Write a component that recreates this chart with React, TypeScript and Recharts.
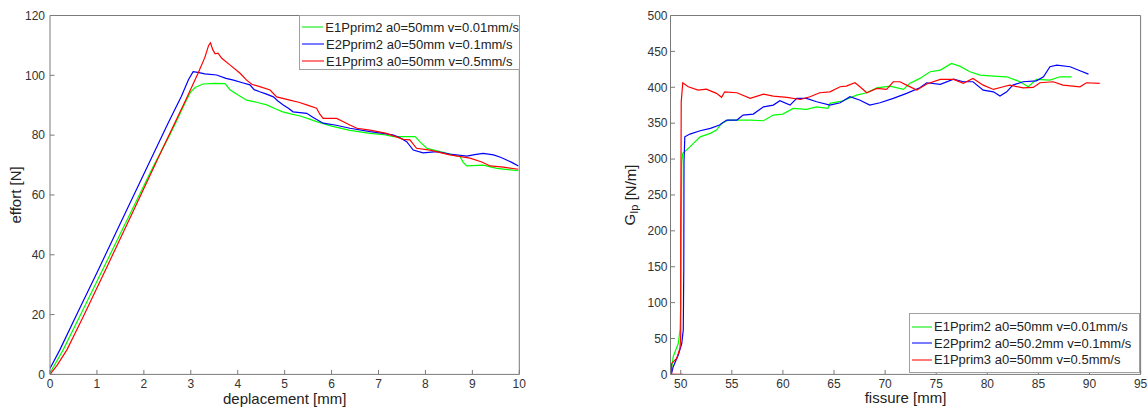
import React from 'react';
import { LineChart, Line, XAxis, YAxis, Legend } from 'recharts';

const FONT = "'Liberation Sans', Arial, Helvetica, sans-serif";

// ---------- Left chart: effort vs deplacement ----------
const depTicks = [0, 1, 2, 3, 4, 5, 6, 7, 8, 9, 10];
const effTicks = [0, 20, 40, 60, 80, 100, 120];

const dep1 = [0, 0.28, 0.7, 1.2, 1.7, 2.2, 2.55, 2.75, 2.9, 3.0, 3.1, 3.26, 3.5, 3.73, 3.84, 4.0, 4.19, 4.4, 4.62, 4.8, 4.96, 5.15, 5.33, 5.5, 5.68, 6.0, 6.39, 6.82, 7.1, 7.32, 7.78, 7.9, 8.03, 8.31, 8.74, 8.8, 8.88, 9.23, 9.52, 9.98];
const eff1 = [0.5, 8.2, 21.5, 37.5, 53.5, 69.5, 80, 86.5, 91.5, 94.5, 96, 97.1, 97.3, 97.2, 95.1, 93.5, 91.7, 91, 90.1, 88.8, 87.8, 87, 86.4, 85.5, 84.5, 83, 81.6, 80.6, 80.2, 79.5, 79.5, 77.5, 75.6, 74.5, 72.8, 71, 69.7, 70, 68.9, 68.1];

const dep2 = [0, 0.21, 0.6, 1.0, 1.5, 2.0, 2.5, 2.8, 2.95, 3.05, 3.15, 3.3, 3.55, 3.75, 3.91, 4.1, 4.26, 4.35, 4.47, 4.6, 4.76, 4.85, 4.97, 5.08, 5.18, 5.47, 5.6, 5.82, 6.1, 6.39, 6.82, 7.1, 7.32, 7.45, 7.6, 7.74, 7.95, 8.24, 8.52, 8.88, 9.05, 9.23, 9.45, 9.6, 9.73, 9.85, 9.98];
const eff2 = [2, 8.2, 21, 34, 50.5, 67, 83.5, 93, 98.5, 101.2, 101, 100.5, 100.1, 99, 98.4, 97.5, 96.8, 95.2, 94.5, 93.8, 92.8, 91.5, 90.1, 89, 87.8, 87.3, 86, 84, 83.3, 82.3, 81.2, 80.6, 80, 79.2, 77.8, 75, 74.1, 74.5, 73.7, 73, 73.5, 73.9, 73.4, 72.6, 71.7, 70.8, 69.7];

const dep3 = [0, 0.15, 0.36, 0.7, 1.2, 1.8, 2.4, 2.9, 3.15, 3.3, 3.38, 3.42, 3.47, 3.52, 3.58, 3.66, 3.84, 4.05, 4.19, 4.3, 4.47, 4.69, 4.83, 5.11, 5.3, 5.47, 5.68, 5.75, 5.82, 6.11, 6.25, 6.39, 6.54, 6.82, 7.17, 7.53, 7.67, 7.81, 8.1, 8.52, 8.95, 9.2, 9.38, 9.66, 9.98];
const eff3 = [0, 3, 8.2, 19, 35.5, 55.5, 75.5, 92, 100.5, 106, 110, 110.9, 108.5, 107.2, 107.4, 105.7, 103.4, 100.7, 98.4, 97, 96.2, 95.1, 92.8, 91.7, 91, 90.1, 89, 87, 85.6, 85.6, 84.5, 83.4, 82.3, 81.7, 80.6, 78.6, 78.4, 75.6, 75, 73.4, 72.3, 71, 69.7, 69.3, 68.6];

const leftNames = [
  'E1Pprim2 a0=50mm v=0.01mm/s',
  'E2Pprim2 a0=50mm v=0.1mm/s',
  'E1Pprim3 a0=50mm v=0.5mm/s',
];

// ---------- Right chart: G_Ip vs fissure ----------
const fisTicks = [50, 55, 60, 65, 70, 75, 80, 85, 90, 95];
const gTicks = [0, 50, 100, 150, 200, 250, 300, 350, 400, 450, 500];

const fis1 = [49.05, 49.27, 49.76, 49.93, 50.0, 50.05, 50.1, 50.2, 50.9, 51.9, 52.9, 53.5, 54, 54.66, 55.8, 56.8, 58.1, 59.06, 60.0, 61.0, 62.3, 63.3, 64.4, 64.6, 65.9, 67.2, 68.2, 69.2, 70.48, 71.8, 72.4, 73.4, 74.4, 75.4, 76.5, 77.3, 78.3, 79.3, 80.6, 81.9, 83.2, 84.0, 84.8, 86.13, 87.1, 88.25];
const g1 = [2, 25, 43, 62, 96, 200, 295, 308, 317, 331, 335.8, 340.4, 349.7, 354.3, 354.3, 354.3, 353.4, 361.3, 362.7, 370.6, 369.2, 372.8, 370.6, 377.6, 381.2, 389.1, 392.4, 399.3, 401.7, 397, 405.4, 412.4, 421.6, 424, 433.3, 429.5, 421.6, 417, 415.6, 414.6, 407.7, 400.7, 411, 410, 414.6, 414.6];

const fis2 = [49.1, 49.27, 49.76, 50.1, 50.25, 50.3, 50.32, 50.4, 50.9, 51.9, 52.9, 53.8, 54.5, 55.5, 56.1, 57.1, 58.1, 59.06, 59.7, 60.7, 61.35, 62.3, 63.3, 64.6, 65.6, 66.56, 67.5, 68.5, 69.5, 70.8, 72.1, 73.4, 74.07, 75.4, 76.7, 77.65, 78.6, 79.6, 80.6, 81.24, 81.9, 82.5, 83.5, 84.8, 85.5, 86.13, 86.8, 88.1, 89.07, 89.9];
const g2 = [1.5, 10.7, 27, 43, 62, 150, 295, 331, 334.8, 339.4, 342.8, 347.4, 354.3, 354.3, 361.3, 362.7, 372.8, 375.2, 381.2, 375.2, 384.5, 384.5, 379.8, 375.2, 378.4, 386.8, 382.2, 375.2, 378.4, 384.5, 391.5, 399.3, 406.3, 404, 411.4, 407.7, 407.7, 396, 393.7, 387.7, 393.7, 403, 407.7, 409, 414.6, 428.6, 430.9, 428.6, 423, 418.4];

const fis3 = [50.2, 49.1, 49.1, 49.6, 49.93, 50.0, 50.0, 50.05, 50.2, 50.74, 51.7, 52.5, 53.5, 54, 54.3, 55.5, 56.8, 58.1, 59.06, 60.4, 61.7, 62.65, 63.6, 64.6, 65.6, 66.2, 67.05, 67.54, 68.2, 69.2, 70.15, 70.8, 71.45, 72.1, 73.1, 74.07, 75.4, 76.7, 77.65, 78.6, 79.6, 80.6, 81.56, 82.2, 83.5, 84.5, 85.15, 86.45, 87.4, 89.07, 89.7, 91.0];
const g3 = [0, 0, 15, 22.4, 36.4, 55, 200, 380, 406.3, 400.7, 396, 397.5, 391.5, 386, 393.7, 392.4, 384.5, 390.5, 387.7, 386, 383, 386.8, 392.4, 393.7, 400.7, 401.7, 406.3, 400.7, 392.4, 398.5, 397, 407.7, 407.7, 403, 396, 404.5, 411, 411, 405.4, 412.4, 403, 397, 400.7, 403, 399.3, 399.8, 406.3, 407.7, 403, 400.7, 406.3, 405.4];

const rightNames = [
  'E1Pprim2 a0=50mm v=0.01mm/s',
  'E2Pprim2 a0=50.2mm v=0.1mm/s',
  'E1Pprim3 a0=50mm v=0.5mm/s',
];

const COLORS = ['#00ff00', '#0000ff', '#ff0000'];
const LEGEND_COLORS = ['#33ee33', '#3333ff', '#ff3333'];

const zip = (xs: number[], ys: number[]) => xs.map((x, i) => ({ x, y: ys[i] }));

const AXIS_COLOR = '#7a7a7a';
const TICK_STYLE = { fill: '#333333', fontSize: 12, fontFamily: FONT };

const LegendBox = ({ names, lineW, pad, rowH }: any) => (
  <div
    style={{
      background: '#fff',
      border: '1px solid #a0a0a0',
      fontFamily: FONT,
      fontSize: 13,
      color: '#222',
      padding: pad,
      boxSizing: 'border-box',
      whiteSpace: 'nowrap',
      width: '100%',
      height: '100%',
    }}
  >
    {names.map((n: string, i: number) => (
      <div key={i} style={{ display: 'flex', alignItems: 'center', height: rowH }}>
        <svg width={lineW} height={4} style={{ marginRight: 2, display: 'block' }}>
          <line x1={0} y1={2} x2={lineW} y2={2} stroke={LEGEND_COLORS[i]} strokeWidth={1.3} />
        </svg>
        <span>{n}</span>
      </div>
    ))}
  </div>
);

const XLabel = (text: string, dy: number) => (props: any) => {
  const vb = props.viewBox || {};
  return (
    <text x={vb.x + vb.width / 2} y={vb.y + dy} textAnchor="middle" fontFamily={FONT} fontSize={15} fill="#222">
      {text}
    </text>
  );
};

const LeftYLabel = (props: any) => {
  const vb = props.viewBox || {};
  const cx = 16;
  const cy = vb.y + vb.height / 2;
  return (
    <text x={cx} y={cy} transform={`rotate(-90 ${cx} ${cy})`} textAnchor="middle" dominantBaseline="central" fontFamily={FONT} fontSize={15} fill="#222">
      effort [N]
    </text>
  );
};

const RightYLabel = (props: any) => {
  const vb = props.viewBox || {};
  const cx = vb.x + 70;
  const cy = vb.y + vb.height / 2;
  return (
    <text x={cx} y={cy} transform={`rotate(-90 ${cx} ${cy})`} textAnchor="middle" dominantBaseline="central" fontFamily={FONT} fontSize={15} fill="#222">
      G<tspan fontSize={11} dy={4}>Ip</tspan><tspan dy={-4}> [N/m]</tspan>
    </text>
  );
};

export default function App() {
  const left = [zip(dep1, eff1), zip(dep2, eff2), zip(dep3, eff3)];
  const right = [zip(fis1, g1), zip(fis2, g2), zip(fis3, g3)];
  return (
    <div style={{ position: 'absolute', left: 0, top: 0, width: 1148, height: 408, background: '#fff' }}>
      <div style={{ position: 'absolute', left: 0, top: 0 }}>
        <LineChart width={540} height={408} margin={{ top: 14.5, right: 19.7, bottom: 32.6, left: 0 }}>
          <XAxis dataKey="x" type="number" domain={[0, 10]} ticks={depTicks} interval={0} allowDataOverflow height={1}
            stroke={AXIS_COLOR} tickSize={-4.5} tickMargin={9.9} tick={TICK_STYLE} label={XLabel('deplacement [mm]', 29.6)} />
          <XAxis xAxisId="top" orientation="top" type="number" domain={[0, 10]} ticks={depTicks} interval={0} height={1}
            stroke={AXIS_COLOR} tickSize={-4.5} tickFormatter={() => ''} />
          <YAxis type="number" domain={[0, 120]} ticks={effTicks} interval={0} width={50} allowDataOverflow
            stroke={AXIS_COLOR} tickSize={-4.5} tickMargin={9.5} tick={TICK_STYLE} label={LeftYLabel} />
          <YAxis yAxisId="right" orientation="right" type="number" domain={[0, 120]} ticks={effTicks} interval={0} width={1}
            stroke={AXIS_COLOR} tickSize={-4.5} tickFormatter={() => ''} />
          <Legend layout="vertical" align="center" verticalAlign="middle"
            wrapperStyle={{ left: 299, top: 14.7, width: 221, height: 55 }}
            content={() => <LegendBox names={leftNames} lineW={22} pad="3px 0 0 2px" rowH={17} />} />
          {left.map((d, i) => (
            <Line key={i} data={d} dataKey="y" name={leftNames[i]} stroke={COLORS[i]} strokeWidth={1.2} dot={false} type="linear" isAnimationActive={false} />
          ))}
        </LineChart>
      </div>
      <div style={{ position: 'absolute', left: 560, top: 0 }}>
        <LineChart width={588} height={408} margin={{ top: 14.5, right: 6.4, bottom: 32.6, left: 0 }}>
          <XAxis dataKey="x" type="number" domain={[49, 95]} ticks={fisTicks} interval={0} allowDataOverflow height={1}
            stroke={AXIS_COLOR} tickSize={-4.5} tickMargin={9.9} tick={TICK_STYLE} label={XLabel('fissure [mm]', 29)} />
          <XAxis xAxisId="top" orientation="top" type="number" domain={[49, 95]} ticks={fisTicks} interval={0} height={1}
            stroke={AXIS_COLOR} tickSize={-4.5} tickFormatter={() => ''} />
          <YAxis type="number" domain={[0, 500]} ticks={gTicks} interval={0} width={110.5} allowDataOverflow
            stroke={AXIS_COLOR} tickSize={-4.5} tickMargin={7.5} tick={TICK_STYLE} label={RightYLabel} />
          <YAxis yAxisId="right" orientation="right" type="number" domain={[0, 500]} ticks={gTicks} interval={0} width={1}
            stroke={AXIS_COLOR} tickSize={-4.5} tickFormatter={() => ''} />
          <Legend layout="vertical" align="center" verticalAlign="middle"
            wrapperStyle={{ left: 349, top: 313.3, width: 231, height: 60 }}
            content={() => <LegendBox names={rightNames} lineW={20} pad="4px 0 0 2px" rowH={16.5} />} />
          {right.map((d, i) => (
            <Line key={i} data={d} dataKey="y" name={rightNames[i]} stroke={COLORS[i]} strokeWidth={1.2} dot={false} type="linear" isAnimationActive={false} />
          ))}
        </LineChart>
      </div>
    </div>
  );
}
